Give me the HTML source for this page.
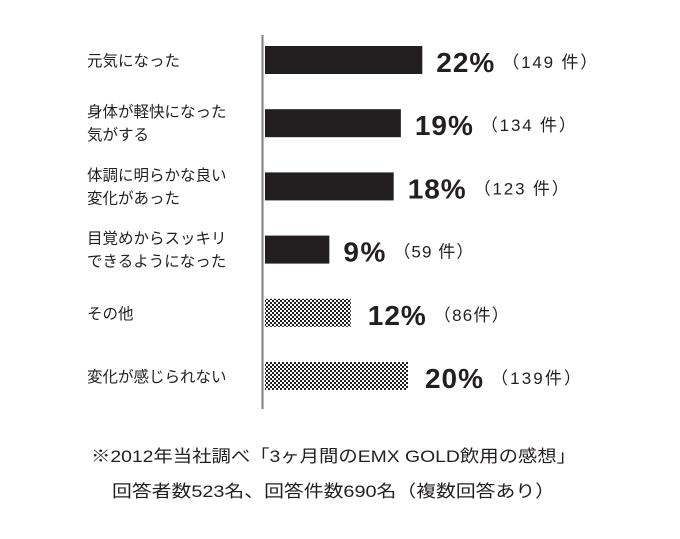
<!DOCTYPE html>
<html><head><meta charset="utf-8"><style>
html,body{margin:0;padding:0;background:#fff;}
svg{display:block;}
text{font-family:"Liberation Sans","Noto Sans CJK JP",sans-serif;fill:#231f20;}
</style></head><body>
<svg id="chart" width="680" height="539" viewBox="0 0 680 539" xmlns="http://www.w3.org/2000/svg">
<defs>
<pattern id="dots" width="4" height="4" patternUnits="userSpaceOnUse">
<rect width="4" height="4" fill="#fff"/>
<rect x="0" y="0" width="2" height="2" fill="#231f20"/>
<rect x="2" y="2" width="2" height="2" fill="#231f20"/>
</pattern>
</defs>
<line x1="262.5" y1="35" x2="262.5" y2="409" stroke="#808080" stroke-width="2"/>
<g id="bars"></g>
<text x="91" y="462" font-size="17" textLength="485" lengthAdjust="spacingAndGlyphs">※2012年当社調べ「3ヶ月間のEMX GOLD飲用の感想」</text>
<text x="112" y="497" font-size="17" textLength="443" lengthAdjust="spacingAndGlyphs">回答者数523名、回答件数690名（複数回答あり）</text>
</svg>
<script>
const categories=[["元気になった"],["身体が軽快になった","気がする"],["体調に明らかな良い","変化があった"],["目覚めからスッキリ","できるようになった"],["その他"],["変化が感じられない"]];
const percents=[22,19,18,9,12,20];
const counts=[149,134,123,59,86,139];
const patterned=[false,false,false,false,true,true];
const NS="http://www.w3.org/2000/svg";
const g=document.getElementById('bars');
const x0=265, scale=7.15, y0=46, step=63.2, bh=28;
function xS(v){return x0+v*scale;}
function yS(i){return y0+i*step;}
function mk(tag,attrs){const e=document.createElementNS(NS,tag);for(const k in attrs)e.setAttribute(k,attrs[k]);return e;}
percents.forEach((p,i)=>{
  const y=yS(i);
  const r=mk('rect',{x:x0,y:y,width:xS(p)-x0,height:bh,fill:patterned[i]?'url(#dots)':'#231f20'});
  
  
  g.appendChild(r);
  const lines=categories[i];
  lines.forEach((t,j)=>{
    const ty=lines.length===1?y+20:y+8+j*23;
    const tx=mk('text',{x:87,y:ty,'font-size':15.5});
    tx.textContent=t;
    
    
    g.appendChild(tx);
  });
  const gap=patterned[i]?17:14;
  const pw=p>=10?58:42;
  const px=xS(p)+gap;
  const v=mk('text',{x:px,y:y+26,'font-size':28,'font-weight':'bold',textLength:pw,lengthAdjust:'spacing'});
  v.textContent=p+'%';
  
  
  g.appendChild(v);
  const cw=patterned[i]?(counts[i]>=100?90:75):(counts[i]>=100?95:80);
  const c=mk('text',{x:px+pw+8,y:y+22,'font-size':17,textLength:cw,lengthAdjust:'spacing'});
  c.textContent='（'+counts[i]+(patterned[i]?'件）':' 件）');
  
  
  g.appendChild(c);
});
</script>
</body></html>
